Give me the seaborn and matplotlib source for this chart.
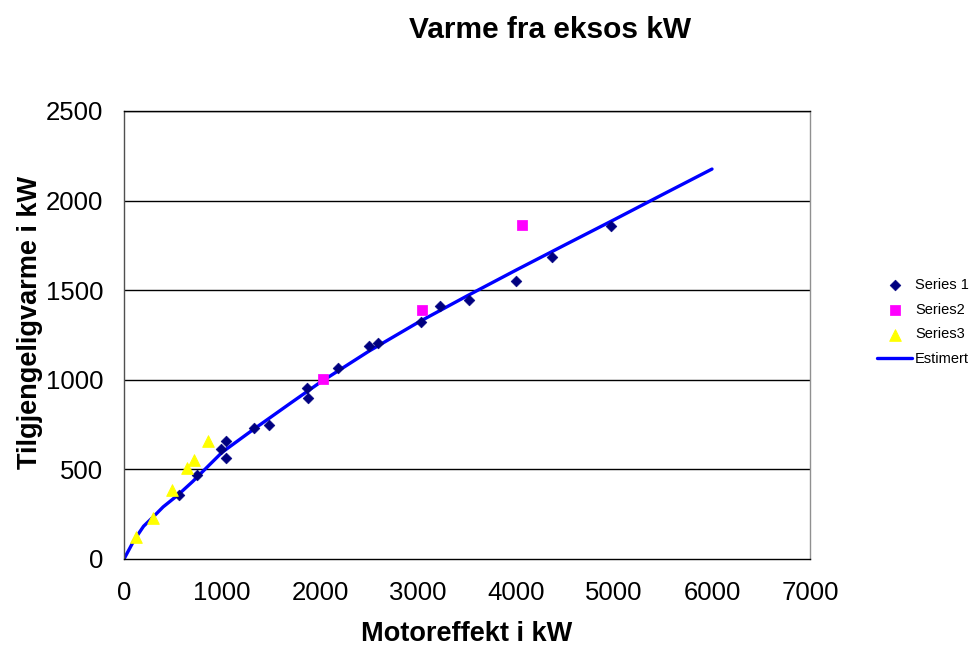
from matplotlib import pyplot as plt
import pandas as pd
import seaborn as sns

# Data lest av fra figuren
s1_motor = [561, 745, 990, 1041, 1041, 1327, 1480, 1867, 1878, 2184, 2500, 2592,
            3030, 3224, 3520, 4000, 4367, 4969]
s1_varme = [357, 469, 614, 658, 564, 731, 748, 954, 898, 1066, 1189, 1205,
            1322, 1412, 1445, 1551, 1685, 1858]

s2_motor = [2031, 3041, 4061]
s2_varme = [1004, 1387, 1864]

s3_motor = [122, 296, 490, 643, 714, 857]
s3_varme = [123, 229, 385, 508, 552, 658]

# Estimert kurve
est_motor = [0, 100, 200, 300, 400, 550, 700, 1000, 1300, 1700, 2000, 2500,
             3000, 3500, 4000, 4500, 5000, 5500, 6000]
est_varme = [0, 102, 183, 236, 291, 357, 432, 595, 715, 870, 985, 1160,
             1320, 1468, 1612, 1753, 1893, 2035, 2176]

x_ticks = [0, 1000, 2000, 3000, 4000, 5000, 6000, 7000]
y_ticks = [0, 500, 1000, 1500, 2000, 2500]

df1 = pd.DataFrame({"motor": s1_motor, "varme": s1_varme})
df2 = pd.DataFrame({"motor": s2_motor, "varme": s2_varme})
df3 = pd.DataFrame({"motor": s3_motor, "varme": s3_varme})
df_est = pd.DataFrame({"motor": est_motor, "varme": est_varme})

sns.set_style("white")
plt.rcParams['font.family'] = ['Liberation Sans', 'DejaVu Sans']
plt.rcParams['text.color'] = 'black'
plt.rcParams['axes.labelcolor'] = 'black'
plt.rcParams['xtick.color'] = 'black'
plt.rcParams['ytick.color'] = 'black'

fig = plt.figure(figsize=(9.71, 6.46), dpi=100)
ax = fig.add_axes([124 / 971, 1 - 559 / 646, 686 / 971, 448 / 646])

# Gridlinjer
for yv in y_ticks[1:]:
    ax.axhline(yv, color="black", lw=1, zorder=0)

sns.lineplot(data=df_est, x="motor", y="varme", ax=ax, color="#0000FF",
             lw=2.4, label="Estimert", zorder=2)
sns.scatterplot(data=df1, x="motor", y="varme", ax=ax, marker="D", s=30,
                color="#000080", edgecolor="#000080", label="Series 1", zorder=3)
sns.scatterplot(data=df2, x="motor", y="varme", ax=ax, marker="s", s=45,
                color="#FF00FF", edgecolor="#FF00FF", label="Series2", zorder=3)
sns.scatterplot(data=df3, x="motor", y="varme", ax=ax, marker="^", s=70,
                color="#FFFF00", edgecolor="#FFFF00", label="Series3", zorder=3)

ax.set_xlim(0, 7000)
ax.set_ylim(0, 2500)
ax.set_xticks(x_ticks)
ax.set_yticks(y_ticks)
ax.tick_params(axis="both", direction="out", length=6, width=1, labelsize=18.5,
               color="black", labelcolor="black")
ax.tick_params(axis="x", pad=10)
ax.tick_params(axis="y", pad=9)

for side in ["left", "right", "top", "bottom"]:
    ax.spines[side].set_visible(True)
    ax.spines[side].set_linewidth(1)
ax.spines["left"].set_color("#505050")
ax.spines["right"].set_color("#909090")
ax.spines["top"].set_color("black")
ax.spines["bottom"].set_color("black")

ax.set_xlabel("Motoreffekt i kW", fontsize=19.5, fontweight="bold")
ax.set_ylabel("Tilgjengeligvarme i kW", fontsize=19.5, fontweight="bold")
ax.xaxis.set_label_coords(0.5, -0.167)
ax.xaxis.label.set_va("center")
ax.yaxis.set_label_coords(-0.137, 0.529)
ax.yaxis.label.set_va("center")

fig.text(550 / 971, 1 - 30 / 646, "Varme fra eksos kW", fontsize=21.5,
         fontweight="bold", ha="center", va="center", color="black")

# Legende til hoyre
handles, labels = ax.get_legend_handles_labels()
ax.get_legend().remove()
order = [labels.index(l) for l in ["Series 1", "Series2", "Series3", "Estimert"]]
fig.legend([handles[i] for i in order], [labels[i] for i in order],
           loc="center left", bbox_to_anchor=(877 / 971, 1 - 322 / 646),
           frameon=False, fontsize=10.5, handlelength=2.4, handletextpad=0.2,
           labelspacing=0.75, borderaxespad=0, borderpad=0)

fig.savefig("out.png", dpi=100)
